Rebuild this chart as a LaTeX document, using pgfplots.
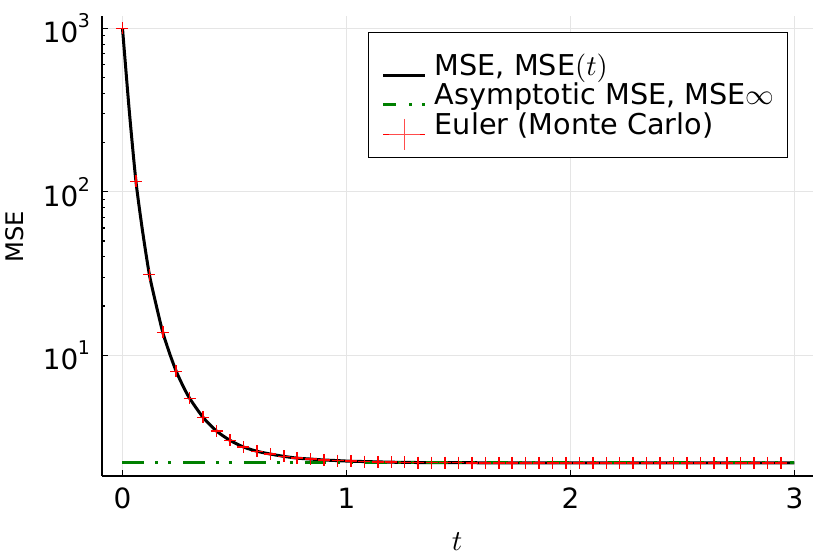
\documentclass[border=0pt]{standalone}
\usepackage{graphicx}
\usepackage{fontspec}
\setmainfont{DejaVu Sans}
\usepackage{pgfplots}
\pgfplotsset{compat=1.18}
\definecolor{jgreen}{RGB}{0,128,0}
\newcommand{\pw}[1]{10\kern-0.5bp\raisebox{0.53em}{\fontsize{19}{19}\selectfont #1}}
\newcommand{\bm}[2]{{\fontsize{10}{12}\selectfont\scalebox{#1}{$#2$}}}
\newcommand{\bt}[2]{{\fontsize{10}{12}\selectfont\scalebox{#1}{#2}}}
\begin{document}
\fontsize{28}{33}\selectfont
\begin{tikzpicture}
\useasboundingbox (-102bp,-78bp) rectangle (728bp,476bp);
\begin{axis}[
  at={(0,0)}, anchor=south west,
  scale only axis, width=711bp, height=460bp,
  xmin=-0.0915, xmax=3.083,
  ymode=log, ymin=1.828, ymax=1189,
  axis x line*=bottom, axis y line*=left,
  axis line style={-, line width=1.5bp, black},
  xtick={0,1,2,3}, xticklabels={0,1,2,3},
  ytick={10,100,1000}, yticklabels={\pw{1},\pw{2},\pw{3}},
  minor tick num=0, minor ytick={},
  tick align=inside, major tick length=6bp,
  tick style={black, line width=1.2bp},
  grid=major, major grid style={color=black!10, line width=1bp},
  ticklabel style={font=\fontsize{28}{33}\selectfont},
  xticklabel style={inner sep=0pt, anchor=north, yshift=-12bp},
  yticklabel style={inner sep=0pt, anchor=east, xshift=-12bp},
  legend style={at={(axis description cs:0.965,0.965)}, anchor=north east,
    draw=black, line width=1.2bp, fill=white,
    inner xsep=13bp, inner ysep=15bp,
    font=\fontsize{28.8}{33}\selectfont,
    nodes={inner sep=0pt, text height=27.6bp, text depth=8.4bp, anchor=base west},
    row sep=-6.5bp, /tikz/column sep=8bp},
  legend cell align=left,
  legend image code/.code={\draw[#1] (0bp,0bp) -- (42bp,0bp);},
]
\addplot[black, line width=3bp, smooth, tension=0.4] coordinates {
(0,1000) (0.03,316) (0.06,116) (0.09,57) (0.12,31.2) (0.15,20.4) (0.18,13.8)
(0.21,10.3) (0.24,7.98) (0.27,6.5) (0.30,5.45) (0.36,4.17) (0.42,3.44)
(0.48,3.02) (0.54,2.75) (0.60,2.59) (0.66,2.49) (0.72,2.41) (0.78,2.35)
(0.84,2.32) (0.90,2.29) (0.96,2.27) (1.02,2.25) (1.08,2.24) (1.14,2.23)
(1.20,2.22) (1.32,2.21) (1.5,2.205) (1.8,2.2) (3.0,2.2)
};
\addlegendentry{MSE, MSE\bm{2.88}{(t)}}
\addplot[jgreen, line width=2.7bp, line cap=butt,
  dash pattern=on 21.7bp off 11bp on 3bp off 10bp on 3bp off 12bp,
  legend image code/.code={\draw[jgreen, line width=2.7bp, line cap=butt, dash pattern=on 13bp off 13bp on 3bp off 10bp on 3bp off 10bp] (0bp,0bp) -- (42bp,0bp);}] coordinates {
(0,2.2) (3.0,2.2)
};
\addlegendentry{Asymptotic MSE, MSE\bm{2.88}{\infty}}
\addplot[red, only marks, mark=+, mark size=6bp, line width=1.5bp,
  legend image code/.code={\path (0bp,0bp) -- (42bp,0bp); \draw[overlay, red!70, line width=1.3bp] plot[mark=+, mark size=15.5bp] coordinates {(21bp,0bp)};}] coordinates {
(0,1000) (0.06,116) (0.12,31.2) (0.18,13.8) (0.24,7.98) (0.30,5.45)
(0.36,4.17) (0.42,3.44) (0.48,3.02) (0.54,2.75) (0.60,2.59) (0.66,2.49)
(0.72,2.41) (0.78,2.35) (0.84,2.32) (0.90,2.29) (0.96,2.27) (1.02,2.25)
(1.08,2.24) (1.14,2.23) (1.20,2.22) (1.26,2.215) (1.32,2.21) (1.38,2.21)
(1.44,2.205) (1.50,2.205) (1.56,2.2) (1.62,2.2) (1.68,2.2) (1.74,2.2)
(1.80,2.2) (1.86,2.2) (1.92,2.2) (1.98,2.2) (2.04,2.2) (2.10,2.2)
(2.16,2.2) (2.22,2.2) (2.28,2.2) (2.34,2.2) (2.40,2.2) (2.46,2.2)
(2.52,2.2) (2.58,2.2) (2.64,2.2) (2.70,2.2) (2.76,2.2) (2.82,2.2)
(2.88,2.2) (2.94,2.2)
};
\addlegendentry{Euler (Monte Carlo)}
\end{axis}
\node[rotate=90, inner sep=0pt, anchor=center] at (-87.5bp,239.5bp) {\bt{2.43}{MSE}};
\node[inner sep=0pt, anchor=center] at (355bp,-65.5bp) {\bm{2.9}{t}};
\end{tikzpicture}
\end{document}
